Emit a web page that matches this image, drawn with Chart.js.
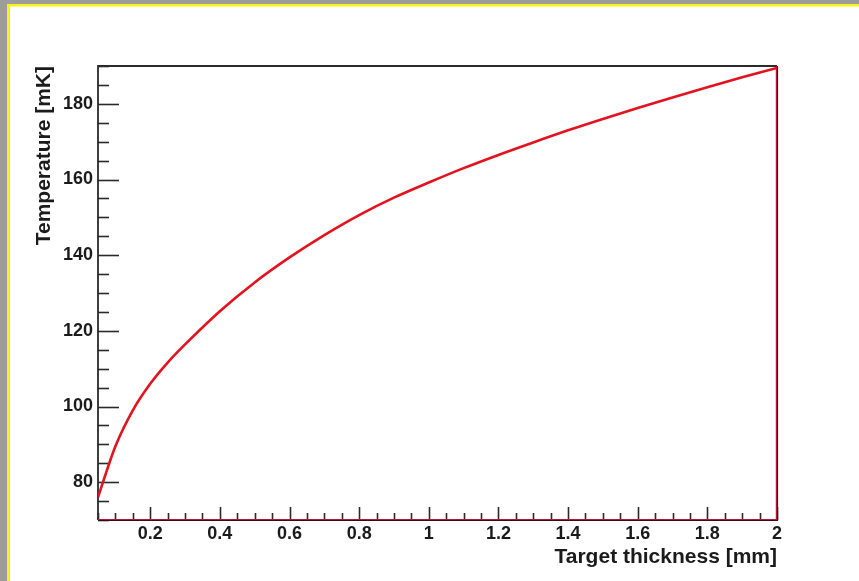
<!DOCTYPE html>
<html>
<head>
<meta charset="utf-8">
<style>
  html, body { margin: 0; padding: 0; background: #ffffff; }
  #wrap { width: 859px; height: 581px; }
</style>
<script src="https://cdn.jsdelivr.net/npm/chart.js@4/dist/chart.umd.min.js"></script>
</head>
<body>
<div id="wrap"><canvas id="c" width="859" height="581"></canvas></div>
<script>
// Target thickness [mm] and the resulting temperature [mK]
const thickness   = [0.05, 0.1, 0.15, 0.2, 0.25, 0.3, 0.4, 0.5, 0.6, 0.7, 0.8, 0.9, 1.0,
                     1.1, 1.2, 1.3, 1.4, 1.5, 1.6, 1.7, 1.8, 1.9, 2.0];
const temperature = [76, 89.5, 99, 106, 111.6, 116.4, 125.2, 132.8, 139.4, 145.3, 150.6, 155.2, 159.2,
                     163.0, 166.5, 169.8, 173.0, 176.0, 178.9, 181.7, 184.4, 187.0, 189.5];

const xTicks = [0.2, 0.4, 0.6, 0.8, 1, 1.2, 1.4, 1.6, 1.8, 2];
const xTickLabels = ["0.2", "0.4", "0.6", "0.8", "1", "1.2", "1.4", "1.6", "1.8", "2"];
const yTicks = [80, 100, 120, 140, 160, 180];
const yTickLabels = ["80", "100", "120", "140", "160", "180"];

const X_MIN = 0.05, X_MAX = 2, X_MINOR = 0.05;
const Y_MIN = 70, Y_MAX = 190, Y_MINOR = 5;

const points = thickness.map((x, i) => ({ x: x, y: temperature[i] }));

// Page frame, plot box and inward-pointing major/minor tick marks
const framePlugin = {
  id: 'frame',
  beforeDraw(chart) {
    const ctx = chart.ctx, W = chart.width, H = chart.height;
    ctx.save();
    ctx.fillStyle = '#ffffff';
    ctx.fillRect(0, 0, W, H);
    ctx.fillStyle = '#9c9c9c';
    ctx.fillRect(0, 0, W, 4);
    ctx.fillRect(0, 0, 7, H);
    ctx.fillStyle = '#f4f41c';
    ctx.fillRect(7, 4, W - 7, 2.5);
    ctx.fillRect(7, 4, 3, H - 4);
    ctx.restore();
  },
  beforeDatasetsDraw(chart) {
    const ctx = chart.ctx, a = chart.chartArea;
    const xs = chart.scales.x, ys = chart.scales.y;
    ctx.save();
    ctx.strokeStyle = '#2a2a2a';
    ctx.lineWidth = 1.6;
    // y ticks along the left edge
    for (let v = Y_MIN; v <= Y_MAX + 1e-9; v += Y_MINOR) {
      const py = Math.round(ys.getPixelForValue(v)) + 0.5;
      const major = yTicks.some(t => Math.abs(t - v) < 1e-6);
      const len = major ? 21 : 11;
      ctx.beginPath();
      ctx.moveTo(a.left, py);
      ctx.lineTo(a.left + len, py);
      ctx.stroke();
    }
    // x ticks along the bottom edge
    for (let v = X_MIN; v <= X_MAX + 1e-9; v += X_MINOR) {
      const px = Math.round(xs.getPixelForValue(v)) + 0.5;
      const major = xTicks.some(t => Math.abs(t - v) < 1e-6);
      const len = major ? 13 : 7;
      ctx.beginPath();
      ctx.moveTo(px, a.bottom);
      ctx.lineTo(px, a.bottom - len);
      ctx.stroke();
    }
    // plot box: top and left dark, bottom and right dark red
    ctx.lineWidth = 1.8;
    ctx.strokeStyle = '#2b2b2b';
    ctx.beginPath();
    ctx.moveTo(a.left, a.bottom);
    ctx.lineTo(a.left, a.top);
    ctx.lineTo(a.right, a.top);
    ctx.stroke();
    ctx.strokeStyle = '#3a0a12';
    ctx.lineWidth = 2.2;
    ctx.beginPath();
    ctx.moveTo(a.right, a.top);
    ctx.lineTo(a.right, a.bottom);
    ctx.lineTo(a.left, a.bottom);
    ctx.stroke();
    ctx.strokeStyle = '#b3173a';
    ctx.lineWidth = 1.2;
    ctx.beginPath();
    ctx.moveTo(a.right - 0.5, a.top);
    ctx.lineTo(a.right - 0.5, a.bottom - 0.5);
    ctx.lineTo(a.left, a.bottom - 0.5);
    ctx.stroke();
    ctx.restore();
  }
};

const labelFont = { family: '"Liberation Sans", Arial, Helvetica, sans-serif', size: 18, weight: 'bold' };
const titleFont = { family: '"Liberation Sans", Arial, Helvetica, sans-serif', size: 21, weight: 'bold' };

new Chart(document.getElementById('c'), {
  type: 'scatter',
  data: {
    datasets: [{
      data: points,
      showLine: true,
      borderColor: '#e3121f',
      borderWidth: 2.6,
      pointRadius: 0,
      pointHoverRadius: 0,
      cubicInterpolationMode: 'monotone',
      fill: false
    }]
  },
  options: {
    responsive: false,
    animation: false,
    events: [],
    layout: { padding: { left: 0, top: 66, right: 82, bottom: 0 } },
    plugins: { legend: { display: false }, tooltip: { enabled: false } },
    scales: {
      x: {
        type: 'linear',
        min: X_MIN, max: X_MAX,
        afterBuildTicks: s => { s.ticks = xTicks.map(v => ({ value: v })); },
        afterFit: s => { s.height = 61; },
        grid: { display: false, drawTicks: false },
        border: { display: false },
        ticks: {
          padding: 3,
          color: '#1b1b1b',
          font: labelFont,
          maxRotation: 0,
          autoSkip: false,
          callback: (v) => { const i = xTicks.findIndex(t => Math.abs(t - v) < 1e-6); return i >= 0 ? xTickLabels[i] : ''; }
        },
        title: {
          display: true,
          text: 'Target thickness [mm]',
          align: 'end',
          color: '#1b1b1b',
          font: titleFont,
          padding: { top: 0, bottom: 11 }
        }
      },
      y: {
        type: 'linear',
        min: Y_MIN, max: Y_MAX,
        afterBuildTicks: s => { s.ticks = yTicks.map(v => ({ value: v })); },
        afterFit: s => { s.width = 98; },
        grid: { display: false, drawTicks: false },
        border: { display: false },
        ticks: {
          padding: 5,
          color: '#1b1b1b',
          font: labelFont,
          autoSkip: false,
          callback: (v) => { const i = yTicks.findIndex(t => Math.abs(t - v) < 1e-6); return i >= 0 ? yTickLabels[i] : ''; }
        },
        title: {
          display: true,
          text: 'Temperature [mK]',
          align: 'end',
          color: '#1b1b1b',
          font: titleFont,
          padding: { top: 32, bottom: 0 }
        }
      }
    }
  },
  plugins: [framePlugin]
});
</script>
</body>
</html>
